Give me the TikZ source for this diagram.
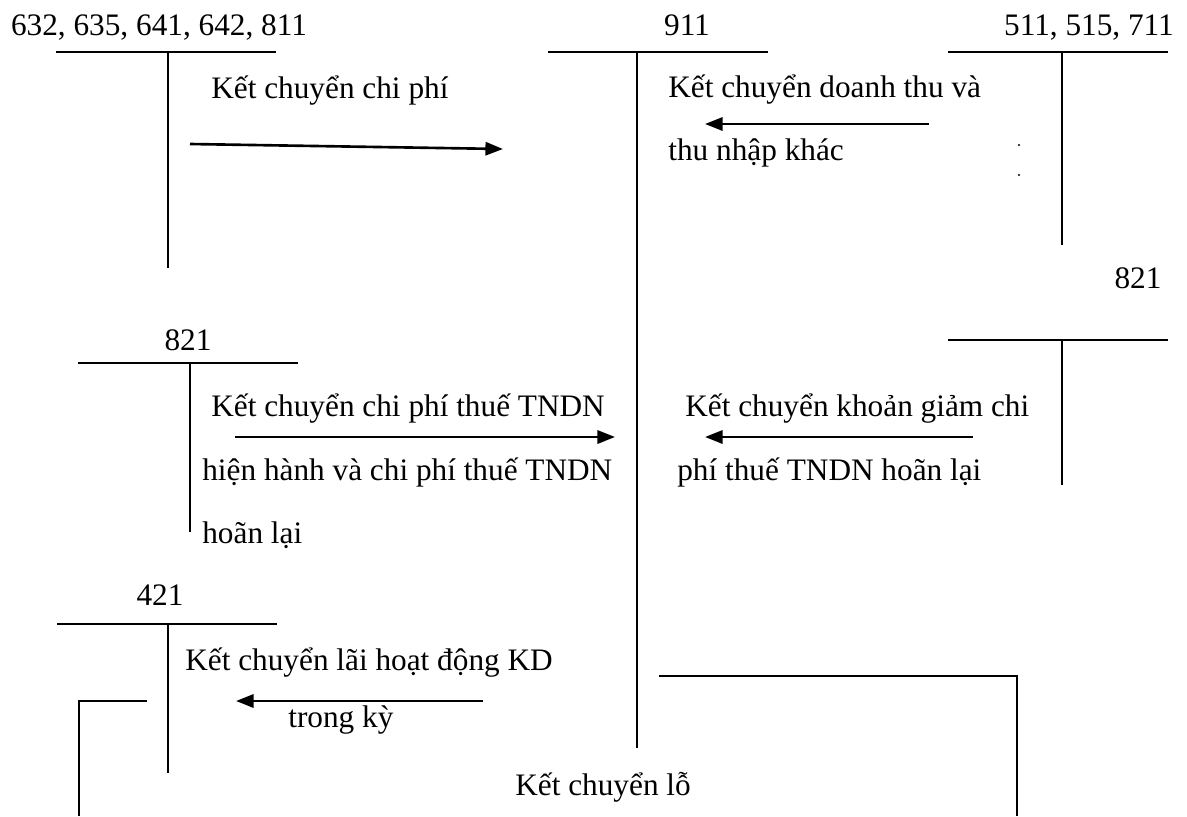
\documentclass[tikz,border=0pt]{standalone}
\usepackage{fontspec}
\setmainfont{Liberation Serif}
\usetikzlibrary{arrows.meta}
\begin{document}
\begin{tikzpicture}[x=0.02cm,y=-0.02cm,
  acct/.style={line width=1pt},
  flow/.style={line width=1.5pt,-{Triangle[length=10pt,width=7.5pt]}},
  lbl/.style={inner sep=0pt,anchor=base west,font=\fontsize{17.8}{20}\selectfont},
  num/.style={inner sep=0pt,anchor=base,font=\fontsize{17.8}{20}\selectfont}]
\useasboundingbox (0,0) rectangle (1187,816);

% account headers
\node[num] (hA) at (159,35) {632, 635, 641, 642, 811};
\node[num] (hB) at (687,35) {911};
\node[num] (hC) at (1089,35) {511, 515, 711};
\node[num] (hD) at (1138,288) {821};
\node[num] (hE) at (188,350) {821};
\node[num] (hF) at (160,605) {421};

% T-account 632...
\coordinate (aL) at (56,52); \coordinate (aR) at (276,52);
\coordinate (aT) at (168,52); \coordinate (aB) at (168,268);
\draw[acct] (aL) -- (aR); \draw[acct] (aT) -- (aB);
% T-account 911
\coordinate (bL) at (548,52); \coordinate (bR) at (768,52);
\coordinate (bT) at (637,52); \coordinate (bB) at (637,748);
\draw[acct] (bL) -- (bR); \draw[acct] (bT) -- (bB);
% T-account 511, 515, 711
\coordinate (cL) at (948,52); \coordinate (cR) at (1168,52);
\coordinate (cT) at (1062,52); \coordinate (cB) at (1062,245);
\draw[acct] (cL) -- (cR); \draw[acct] (cT) -- (cB);
% T-account 821 (right)
\coordinate (dL) at (948,340); \coordinate (dR) at (1168,340);
\coordinate (dT) at (1062,340); \coordinate (dB) at (1062,485);
\draw[acct] (dL) -- (dR); \draw[acct] (dT) -- (dB);
% T-account 821 (left)
\coordinate (eL) at (78,363); \coordinate (eR) at (298,363);
\coordinate (eT) at (190,363); \coordinate (eB) at (190,532);
\draw[acct] (eL) -- (eR); \draw[acct] (eT) -- (eB);
% T-account 421
\coordinate (fL) at (57,624); \coordinate (fR) at (277,624);
\coordinate (fT) at (168,624); \coordinate (fB) at (168,773);
\draw[acct] (fL) -- (fR); \draw[acct] (fT) -- (fB);

% transfer labels
\node[lbl] (t1) at (211,98) {Kết chuyển chi phí};
\node[lbl] (t2) at (668,97) {Kết chuyển doanh thu và};
\node[lbl] (t3) at (668,160) {thu nhập khác};
\node[lbl] (t4) at (211,416) {Kết chuyển chi phí thuế TNDN};
\node[lbl] (t5) at (202,480) {hiện hành và chi phí thuế TNDN};
\node[lbl] (t6) at (202,543) {hoãn lại};
\node[lbl] (t7) at (685,416) {Kết chuyển khoản giảm chi};
\node[lbl] (t8) at (677,480) {phí thuế TNDN hoãn lại};
\node[lbl] (t9) at (185,670) {Kết chuyển lãi hoạt động KD};
\node[lbl] (t10) at (288,727) {trong kỳ};
\node[lbl] (t11) at (515,795) {Kết chuyển lỗ};

% small marks
\fill (1019,145) circle (1.2);
\fill (1019,175) circle (1.2);

% transfer arrows
\coordinate (s1) at (190,144); \coordinate (e1) at (503,149);
\coordinate (s2) at (929,124); \coordinate (e2) at (705,124);
\coordinate (s3) at (235,437); \coordinate (e3) at (615,437);
\coordinate (s4) at (973,437); \coordinate (e4) at (705,437);
\coordinate (s5) at (483,701); \coordinate (e5) at (236,701);
\draw[flow] (s1) -- (e1);
\draw[flow] (s2) -- (e2);
\draw[flow] (s3) -- (e3);
\draw[flow] (s4) -- (e4);
\draw[flow] (s5) -- (e5);

% loss transfer bracket lines
\coordinate (g1) at (147,701); \coordinate (g2) at (79,701); \coordinate (g3) at (79,816);
\coordinate (k1) at (659,676); \coordinate (k2) at (1017,676); \coordinate (k3) at (1017,816);
\draw[acct] (g1) -- (g2) -- (g3);
\draw[acct] (k1) -- (k2) -- (k3);
\end{tikzpicture}
\end{document}
